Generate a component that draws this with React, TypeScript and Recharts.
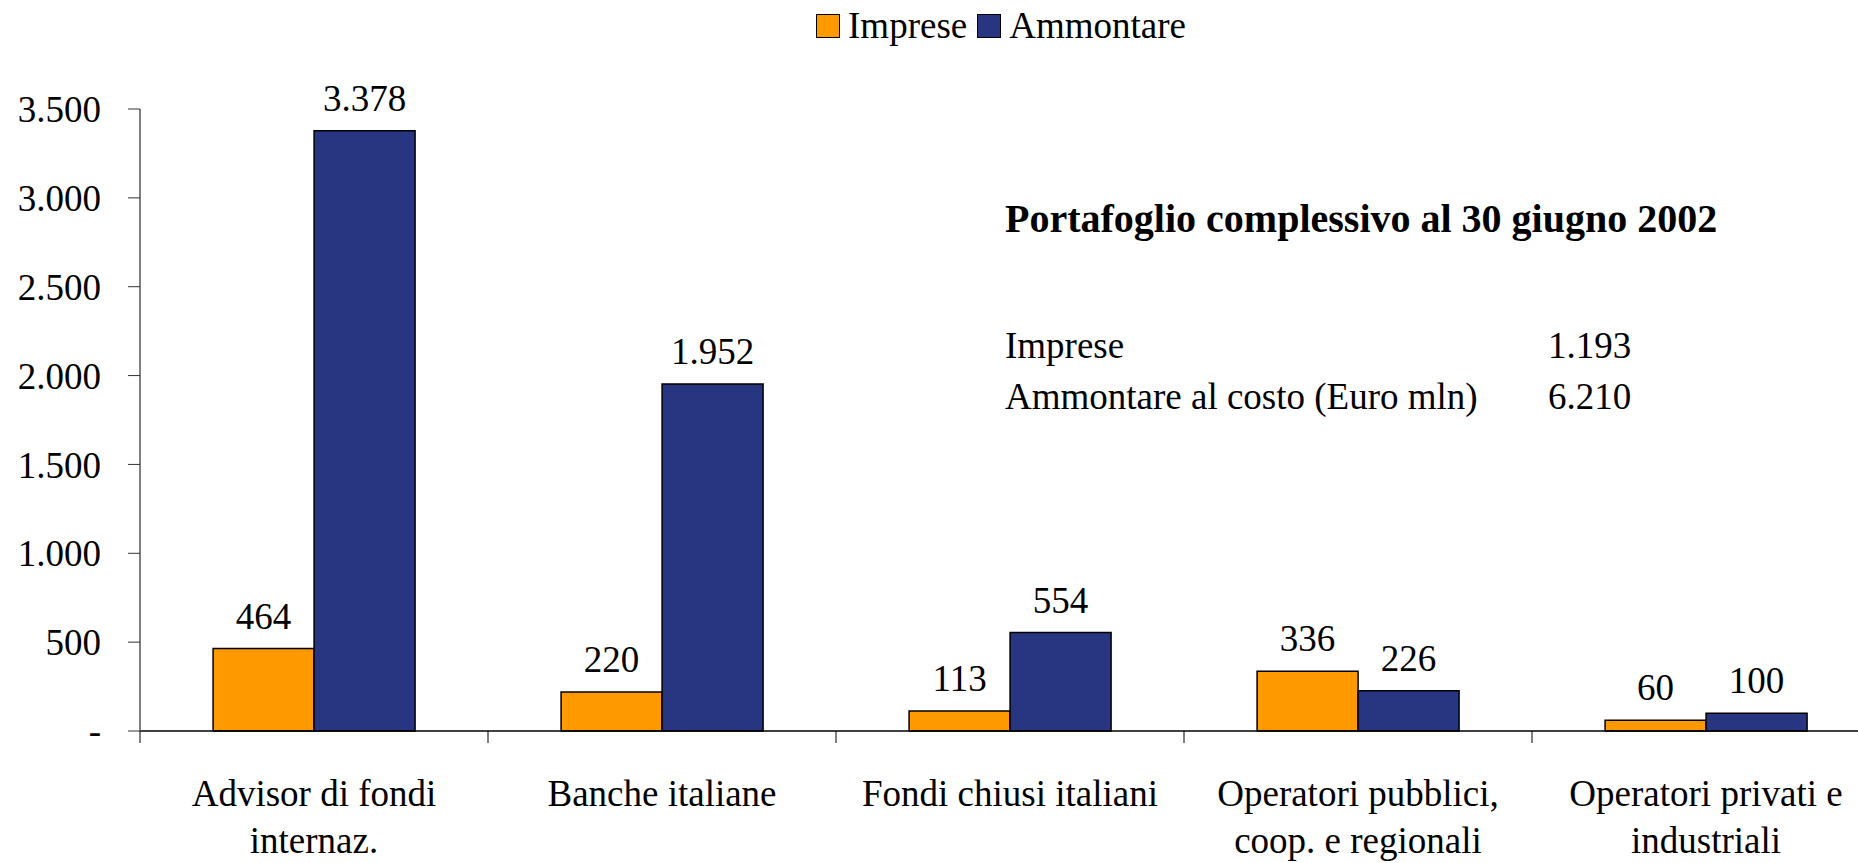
import React from "react";
import { BarChart, Bar, XAxis, YAxis, Legend, LabelList } from "recharts";

const categories = [
    ["Advisor di fondi", "internaz."],
    ["Banche italiane"],
    ["Fondi chiusi italiani"],
    ["Operatori pubblici,", "coop. e regionali"],
    ["Operatori privati e", "industriali"],
];
const impreseValues = [464, 220, 113, 336, 60];
const ammontareValues = [3378, 1952, 554, 226, 100];
const yTicks = [0, 500, 1000, 1500, 2000, 2500, 3000, 3500];

const summaryTitle = "Portafoglio complessivo al 30 giugno 2002";
const summaryRows = [
    ["Imprese", "1.193"],
    ["Ammontare al costo (Euro mln)", "6.210"],
];

const data = categories.map((lines, i) => ({
    name: lines.join(" "),
    lines,
    imprese: impreseValues[i],
    ammontare: ammontareValues[i],
}));

const FONT = '"Liberation Serif", "Times New Roman", serif';
const ORANGE = "#FF9900";
const NAVY = "#283580";

// italian style thousands with a dot, zero as a dash
const fmt = (v: number) => (v === 0 ? "-" : String(v).replace(/\B(?=(\d{3})+(?!\d))/g, "."));

const CategoryTick = (props: any) => {
    const { x, y, payload, index } = props;
    const off = payload.offset || 174;
    const lines: string[] = data[index] ? data[index].lines : [String(payload.value)];
    return (
        <g>
            <line x1={x - off} y1={y} x2={x - off} y2={y + 12} stroke="#000" strokeWidth={1} />
            {index === categories.length - 1 && (
                <line x1={x + off} y1={y} x2={x + off} y2={y + 12} stroke="#000" strokeWidth={1} />
            )}
            {lines.map((t, i) => (
                <text key={i} x={x} y={y + 75 + i * 47} textAnchor="middle" fontSize={37} fontFamily={FONT} fill="#000">
                    {t}
                </text>
            ))}
        </g>
    );
};

const LegendContent = () => (
    <div style={{ display: "flex", justifyContent: "center", alignItems: "center", fontFamily: FONT, fontSize: 37 }}>
        <span style={{ width: 22, height: 22, background: ORANGE, border: "1.5px solid #000", marginRight: 8 }} />
        <span style={{ marginRight: 10 }}>Imprese</span>
        <span style={{ width: 22, height: 22, background: NAVY, border: "1.5px solid #000", marginRight: 8 }} />
        <span>Ammontare</span>
    </div>
);

const App: React.FC = () => {
    return (
        <div
            style={{
                position: "absolute",
                left: 0,
                top: 0,
                width: 1858,
                height: 863,
                overflow: "hidden",
                background: "#fff",
                fontFamily: FONT,
            }}
        >
            <BarChart
                width={1900}
                height={863}
                data={data}
                margin={{ top: 109, right: 20, left: 0, bottom: 0 }}
                barGap={0}
                barCategoryGap="21%"
            >
                <Legend
                    verticalAlign="middle"
                    align="center"
                    content={<LegendContent />}
                    wrapperStyle={{ top: 4, left: -4, width: 2010, height: 44 }}
                />
                <XAxis
                    dataKey="name"
                    height={132}
                    interval={0}
                    tickLine={false}
                    tickSize={0}
                    tickMargin={0}
                    axisLine={{ stroke: "#000", strokeWidth: 1.5 }}
                    tick={<CategoryTick />}
                />
                <YAxis
                    width={140}
                    domain={[0, 3500]}
                    ticks={yTicks}
                    interval={0}
                    tickSize={12}
                    tickMargin={27}
                    tickFormatter={fmt}
                    axisLine={{ stroke: "#555", strokeWidth: 1.5 }}
                    tickLine={{ stroke: "#333" }}
                    tick={{ fill: "#000", fontSize: 37, fontFamily: FONT }}
                />
                <Bar dataKey="imprese" fill={ORANGE} stroke="#000" strokeWidth={1.5} isAnimationActive={false}>
                    <LabelList dataKey="imprese" position="top" offset={20} formatter={(v: any) => fmt(Number(v))} style={{ fontSize: 37, fontFamily: FONT, fill: "#000" }} />
                </Bar>
                <Bar dataKey="ammontare" fill={NAVY} stroke="#000" strokeWidth={1.5} isAnimationActive={false}>
                    <LabelList dataKey="ammontare" position="top" offset={20} formatter={(v: any) => fmt(Number(v))} style={{ fontSize: 37, fontFamily: FONT, fill: "#000" }} />
                </Bar>
            </BarChart>

            <div style={{ position: "absolute", left: 1005, top: 196, fontSize: 40, fontWeight: "bold", lineHeight: "46px", whiteSpace: "nowrap" }}>
                {summaryTitle}
            </div>
            {summaryRows.map((r, i) => (
                <React.Fragment key={i}>
                    <div style={{ position: "absolute", left: 1005, top: 324 + i * 51, fontSize: 37, lineHeight: "44px", whiteSpace: "nowrap" }}>
                        {r[0]}
                    </div>
                    <div style={{ position: "absolute", left: 1548, top: 324 + i * 51, fontSize: 37, lineHeight: "44px", whiteSpace: "nowrap" }}>
                        {r[1]}
                    </div>
                </React.Fragment>
            ))}
        </div>
    );
};

export default App;
